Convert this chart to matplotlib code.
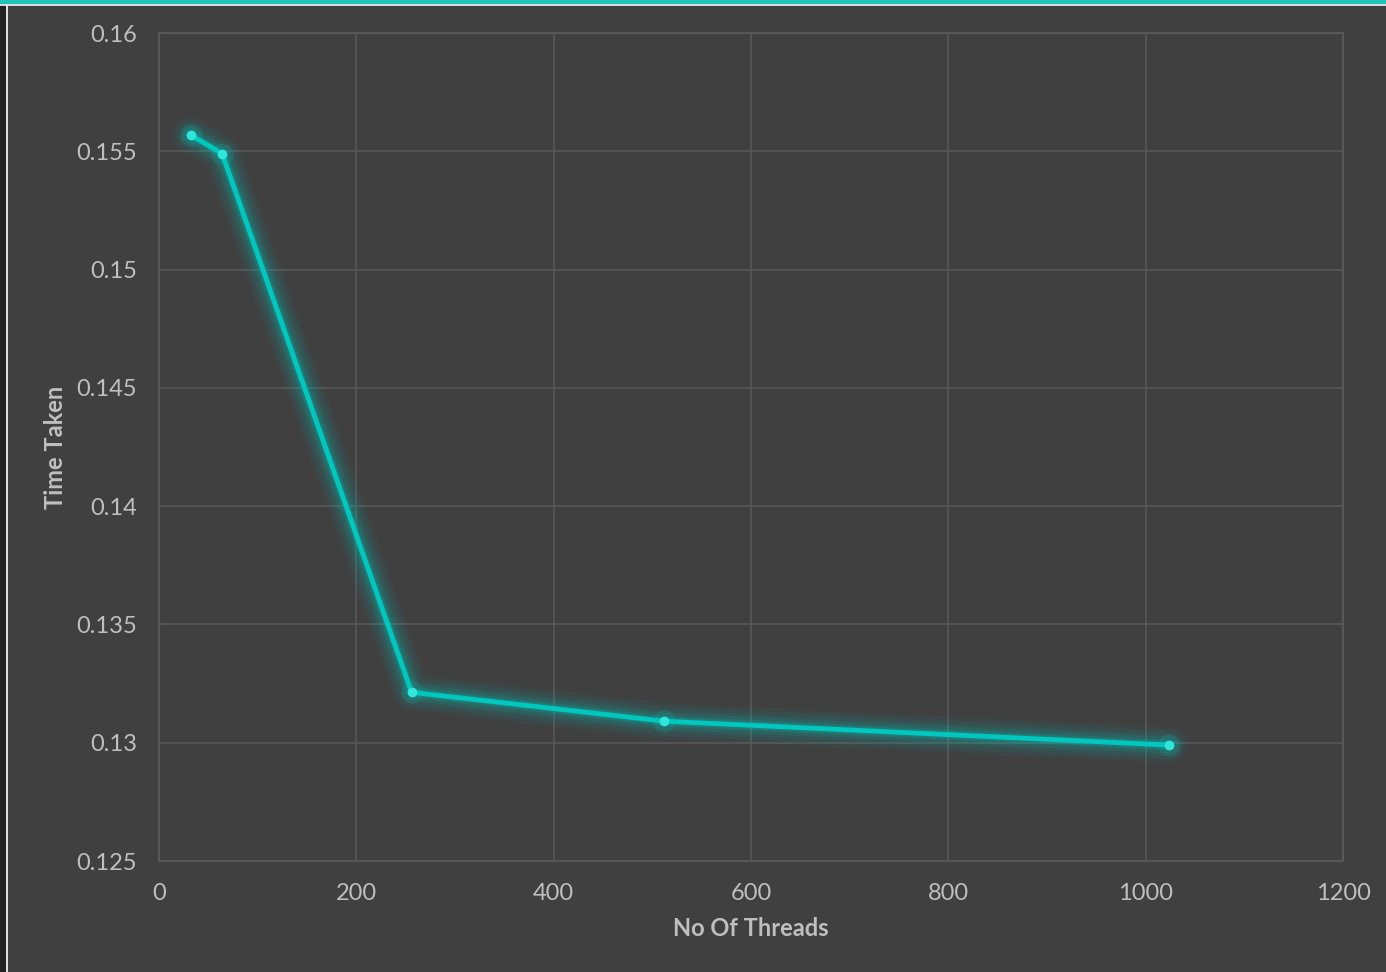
import numpy as np
import matplotlib
matplotlib.use("Agg")
from matplotlib import pyplot as plt
from matplotlib.patches import Rectangle

# thread count vs. time taken
threads = [32, 64, 256, 512, 1024]
time_taken = [0.15569, 0.15490, 0.13213, 0.13091, 0.12990]

x_ticks = [0, 200, 400, 600, 800, 1000, 1200]
y_ticks = [0.125, 0.13, 0.135, 0.14, 0.145, 0.15, 0.155, 0.16]
y_tick_labels = ["0.125", "0.13", "0.135", "0.14", "0.145", "0.15", "0.155", "0.16"]

bg = "#404040"
teal = "#00c8be"
grid_col = "#585858"
text_col = "#bfbfbf"

plt.rcParams['font.family'] = ['Lato', 'DejaVu Sans']

W, H = 1386, 972
fig = plt.figure(figsize=(W / 100, H / 100), dpi=100, facecolor=bg)
ax = fig.add_axes([159 / W, 1 - 861 / H, (1343 - 159) / W, (861 - 33) / H])
ax.set_facecolor(bg)

# window frame bits
fig.patches.append(Rectangle((0, 1 - 4 / H), 1, 4 / H, transform=fig.transFigure,
                             facecolor="#1fc4b8", edgecolor="none", zorder=0))
fig.patches.append(Rectangle((0, 1 - 6 / H), 1, 2 / H, transform=fig.transFigure,
                             facecolor="#d8d8d8", edgecolor="none", zorder=0))
fig.patches.append(Rectangle((0, 0), 6 / W, 1 - 6 / H, transform=fig.transFigure,
                             facecolor="#222222", edgecolor="none", zorder=0))
fig.patches.append(Rectangle((6 / W, 0), 2 / W, 1 - 4 / H, transform=fig.transFigure,
                             facecolor="#e0e0e0", edgecolor="none", zorder=0))

# soft glow under the line
for lw, a in [(26, 0.05), (21, 0.06), (16, 0.08), (12, 0.10), (8, 0.13), (5.5, 0.18)]:
    ax.plot(threads, time_taken, color=teal, lw=lw, alpha=a,
            solid_capstyle="round", solid_joinstyle="round", zorder=2)
ax.plot(threads, time_taken, color=teal, lw=3.4, solid_joinstyle="round", zorder=3)
ax.plot(threads, time_taken, ls="none", marker="o", ms=16, color=teal, alpha=0.15,
        markeredgewidth=0, zorder=3)
ax.plot(threads, time_taken, ls="none", marker="o", ms=7, color="#30e6dc",
        markeredgewidth=0, zorder=4)

ax.set_xlim(0, 1200)
ax.set_ylim(0.125, 0.16)
ax.set_xticks(x_ticks)
ax.set_xticklabels([str(t) for t in x_ticks])
ax.set_yticks(y_ticks)
ax.set_yticklabels(y_tick_labels)
ax.grid(True, color=grid_col, lw=1.2)
ax.set_axisbelow(True)
for s in ax.spines.values():
    s.set_color(grid_col)
    s.set_linewidth(1.5)
ax.tick_params(length=0, colors=text_col, labelsize=17)
ax.tick_params(axis="x", pad=16)
ax.tick_params(axis="y", pad=16)

ax.set_xlabel("No Of Threads", color=text_col, fontsize=17, fontweight="bold")
ax.set_ylabel("Time Taken", color=text_col, fontsize=17, fontweight="bold")
ax.xaxis.set_label_coords(0.5, -(917 - 861) / 828)
ax.yaxis.set_label_coords(-(159 - 67) / 1184, 0.5)

fig.savefig("out.png", dpi=100, facecolor=bg)
